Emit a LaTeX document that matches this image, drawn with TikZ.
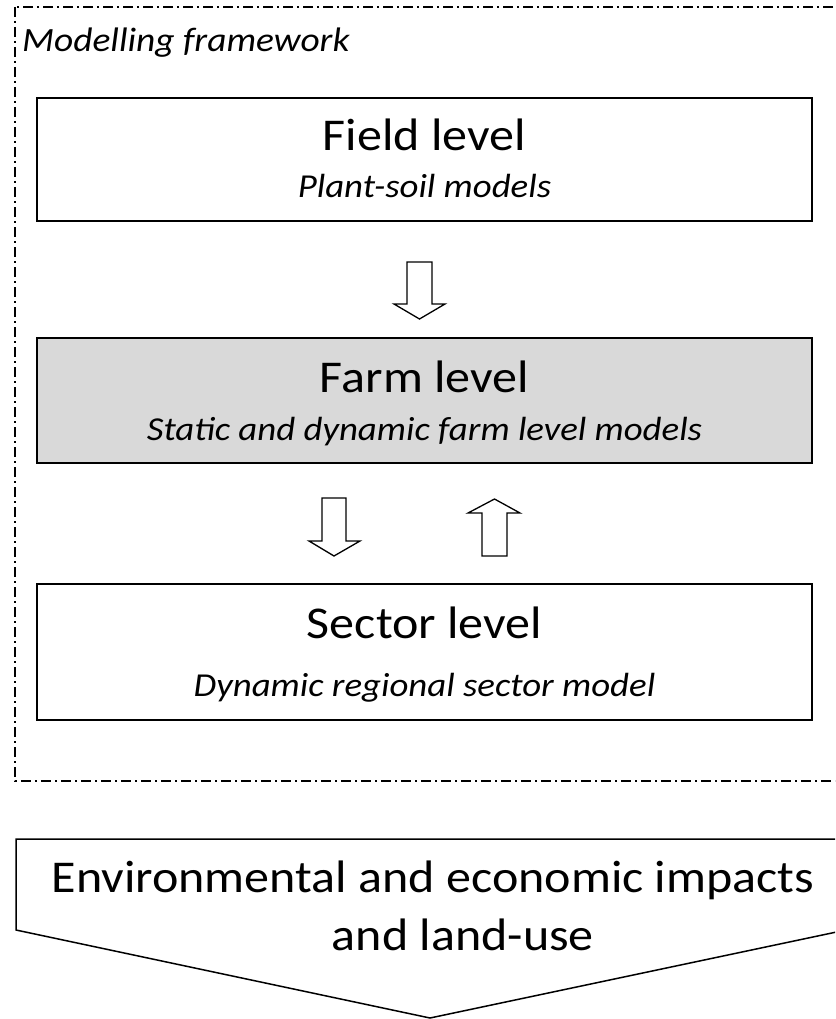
\documentclass[tikz,border=0pt]{standalone}
\usepackage{fontspec}
\setmainfont[FakeStretch=1.1]{Carlito}
\begin{document}
\begin{tikzpicture}[x=1pt,y=-1pt,
  levelbox/.style={draw=black,line width=1.6pt},
  frameline/.style={draw=black,line width=1.2pt,dash pattern=on 10pt off 4pt on 2pt off 4pt},
  blockarrow/.style={draw=black,fill=white,line width=1.3pt,line join=miter},
  titletext/.style={anchor=base,inner sep=0pt,font=\fontsize{45.5}{50}\selectfont},
  subtext/.style={anchor=base,inner sep=0pt,font=\fontsize{33.5}{38}\selectfont\itshape}]
\clip (0,0) rectangle (835,1019);
\fill[white] (0,0) rectangle (835,1019);
% framework frame
\draw[frameline] (15,7) rectangle (860,781);
\node[anchor=base west,inner sep=0pt,font=\fontsize{34}{38}\selectfont\itshape] (fw) at (22,52) {Modelling framework};
% boxes
\draw[levelbox] (37,98) rectangle (812,221);
\node[titletext] (field) at (424.5,151) {Field level};
\node[subtext] (fieldsub) at (424.5,197) {Plant-soil models};
\draw[levelbox,fill={rgb,255:red,217;green,217;blue,217}] (37,338) rectangle (812,463);
\node[titletext] (farm) at (424.5,392) {Farm level};
\node[subtext] (farmsub) at (424.5,440) {Static and dynamic farm level models};
\draw[levelbox] (37,584) rectangle (812,720);
\node[titletext] (sector) at (424.5,638) {Sector level};
\node[subtext] (sectorsub) at (424.5,696) {Dynamic regional sector model};
% block arrows
\draw[blockarrow] (407,262) -- (432,262) -- (432,304) -- (445,304) -- (419.5,319) -- (394,304) -- (407,304) -- cycle;
\draw[blockarrow] (322,498) -- (346,498) -- (346,541) -- (360,541) -- (334,556) -- (309,541) -- (322,541) -- cycle;
\draw[blockarrow] (482,556) -- (507,556) -- (507,513) -- (520,513) -- (494.5,499) -- (468,513) -- (482,513) -- cycle;
% output pentagon
\draw[line width=1.5pt,line join=miter] (16,839) -- (846,839) -- (846,930) -- (430,1018) -- (16,930) -- cycle;
\node[titletext] (impacts) at (433,892) {Environmental and economic impacts};
\node[titletext] (landuse) at (463,950) {and land-use};
\end{tikzpicture}
\end{document}
